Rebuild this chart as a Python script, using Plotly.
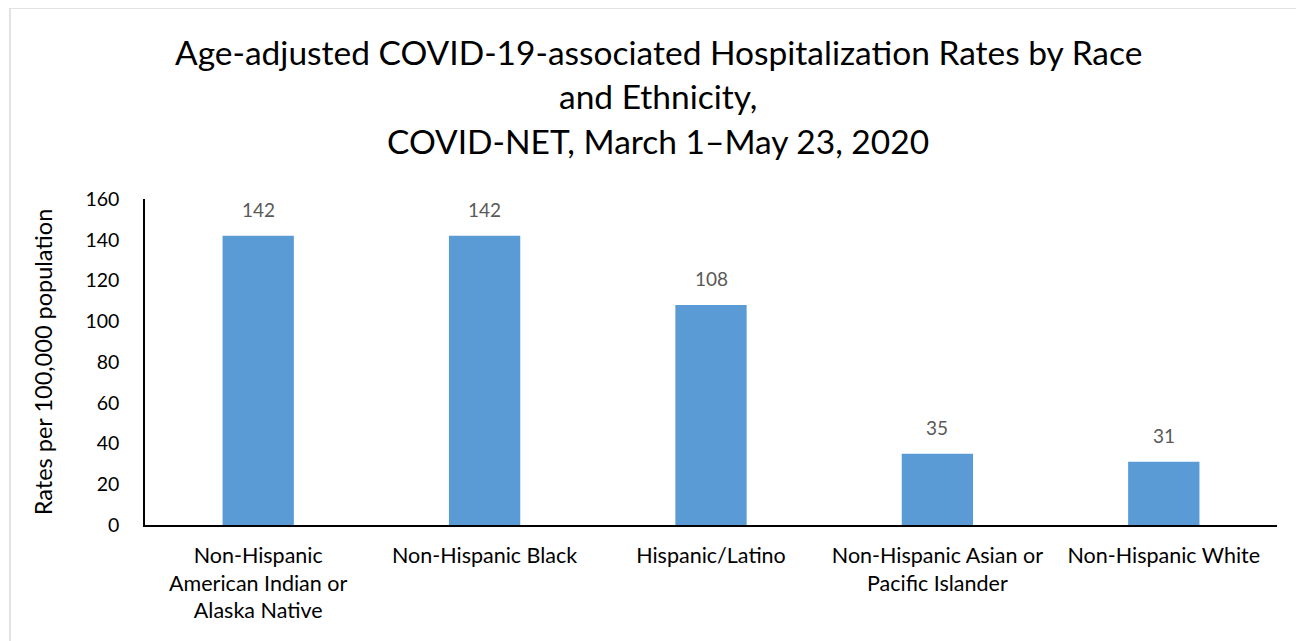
import plotly.graph_objects as go

categories = ["Non-Hispanic<br>American Indian or<br>Alaska Native", "Non-Hispanic Black",
              "Hispanic/Latino", "Non-Hispanic Asian or<br>Pacific Islander", "Non-Hispanic White"]
rates = [142, 142, 108, 35, 31]
y_ticks = [0, 20, 40, 60, 80, 100, 120, 140, 160]
title_lines = ["Age-adjusted COVID-19-associated Hospitalization Rates by Race",
               "and Ethnicity,", "COVID-NET, March 1\u2013May 23, 2020"]

FONT = "Lato"
# plot area in reference pixels: x 145..1277, y 199..525 (page has 8px body offset)
PX0, PX1, PY0, PY1 = 145, 1277, 199, 525
W, H = PX1 - PX0, PY1 - PY0

fig = go.Figure()
fig.add_trace(go.Bar(x=list(range(len(categories))), y=rates, width=0.315,
                     marker=dict(color="#5B9BD5", line=dict(width=0)), showlegend=False))

for i, v in enumerate(rates):
    fig.add_annotation(x=i, y=v, text=str(v), showarrow=False, yanchor="bottom", yshift=13,
                       font=dict(family=FONT, size=19, color="#595959"))

for k, line in enumerate(title_lines):
    fig.add_annotation(xref="paper", yref="paper", x=(658 - PX0) / W,
                       y=(PY1 - (52 + 44.5 * k)) / H, text=line, showarrow=False,
                       xanchor="center", yanchor="middle",
                       font=dict(family=FONT, size=33.5, color="#000000"))

fig.add_shape(type="rect", xref="paper", yref="paper",
              x0=(10 - PX0) / W, x1=(1330 - PX0) / W,
              y0=(PY1 - 680) / H, y1=(PY1 - 8) / H,
              line=dict(color="#D9D9D9", width=1.5), fillcolor="rgba(0,0,0,0)", layer="below")

fig.update_layout(
    width=1304, height=641,
    margin=dict(l=PX0 - 8, r=1304 - (PX1 - 8), t=PY0 - 8, b=641 - (PY1 - 8)),
    paper_bgcolor="white", plot_bgcolor="white",
    font=dict(family=FONT, size=19, color="#000000"),
    xaxis=dict(tickmode="array", tickvals=list(range(len(categories))), ticktext=categories,
               range=[-0.5, len(categories) - 0.5], showline=True, linecolor="#000000",
               linewidth=1.5, ticks="", showgrid=False, zeroline=False, ticklabelstandoff=10,
               tickfont=dict(family=FONT, size=21.5, color="#000000")),
    yaxis=dict(range=[0, 160], tickvals=y_ticks, showline=True, linecolor="#000000",
               linewidth=1.5, ticks="", showgrid=False, zeroline=False, ticklabelstandoff=20,
               tickfont=dict(family=FONT, size=19.5, color="#000000"),
               title=dict(text="Rates per 100,000 population", standoff=26,
                          font=dict(family=FONT, size=23.5, color="#000000"))),
)

fig.write_html("out.html")
